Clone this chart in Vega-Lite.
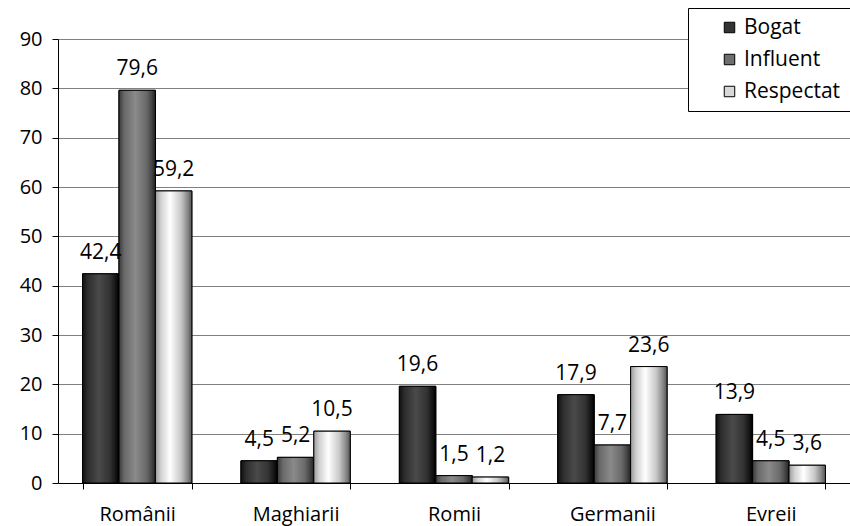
{
  "$schema": "https://vega.github.io/schema/vega-lite/v6.json",
  "width": 792,
  "height": 444,
  "autosize": "none",
  "padding": {"left": 58, "top": 39, "right": 0, "bottom": 43},
  "background": "white",
  "config": {
    "locale": {"number": {"decimal": ",", "thousands": ".", "grouping": [3], "currency": ["", ""]}},
    "view": {"stroke": null},
    "font": "Open Sans"
  },
  "data": {"values": [
    {"grup": "Românii", "s": "Bogat", "v": 42.4},
    {"grup": "Românii", "s": "Influent", "v": 79.6},
    {"grup": "Românii", "s": "Respectat", "v": 59.2},
    {"grup": "Maghiarii", "s": "Bogat", "v": 4.5},
    {"grup": "Maghiarii", "s": "Influent", "v": 5.2},
    {"grup": "Maghiarii", "s": "Respectat", "v": 10.5},
    {"grup": "Romii", "s": "Bogat", "v": 19.6},
    {"grup": "Romii", "s": "Influent", "v": 1.5},
    {"grup": "Romii", "s": "Respectat", "v": 1.2},
    {"grup": "Germanii", "s": "Bogat", "v": 17.9},
    {"grup": "Germanii", "s": "Influent", "v": 7.7},
    {"grup": "Germanii", "s": "Respectat", "v": 23.6},
    {"grup": "Evreii", "s": "Bogat", "v": 13.9},
    {"grup": "Evreii", "s": "Influent", "v": 4.5},
    {"grup": "Evreii", "s": "Respectat", "v": 3.6}
  ]},
  "encoding": {
    "x": {
      "field": "grup", "type": "nominal", "sort": null,
      "scale": {"paddingInner": 0.31, "paddingOuter": 0.155},
      "axis": {
        "title": null, "labelAngle": 0, "labelFontSize": 20, "labelColor": "black",
        "labelPadding": 15, "domainColor": "black", "tickColor": "black",
        "tickBand": "extent", "tickSize": 6, "grid": false
      }
    },
    "xOffset": {"field": "s", "type": "nominal", "scale": {"paddingInner": 0, "paddingOuter": 0}},
    "y": {
      "field": "v", "type": "quantitative",
      "scale": {"domain": [0, 90], "nice": false},
      "axis": {
        "title": null, "values": [0,10,20,30,40,50,60,70,80,90], "labelFontSize": 20,
        "labelColor": "black", "labelPadding": 10, "domainColor": "black", "tickColor": "black",
        "tickSize": 6, "gridColor": "#808080", "gridWidth": 1.2
      }
    }
  },
  "layer": [
    {
      "mark": {"type": "bar", "stroke": "black", "strokeWidth": 1},
      "encoding": {
        "color": {
          "field": "s", "type": "nominal",
          "scale": {"domain": ["Bogat", "Influent", "Respectat"], "range": ["#333333", "#6e6e6e", "#d8d8d8"]},
          "legend": {
            "title": null, "orient": "none", "legendX": 630, "legendY": -31,
            "strokeColor": "black", "fillColor": "white", "padding": 9,
            "labelFontSize": 21, "labelColor": "black", "symbolType": "square", "symbolSize": 110,
            "symbolStrokeColor": "black", "symbolStrokeWidth": 1, "rowPadding": 10,
            "symbolOffset": 22, "labelOffset": 4, "offset": 0
          }
        }
      }
    },
    {
      "transform": [{"filter": "datum.s === 'Bogat'"}],
      "mark": {"type": "bar", "stroke": "black", "strokeWidth": 1,
        "color": {"gradient": "linear", "x1": 0, "x2": 1, "y1": 0, "y2": 0, "stops": [
          {"offset": 0, "color": "#111111"}, {"offset": 0.15, "color": "#2e2e2e"},
          {"offset": 0.45, "color": "#4a4a4a"}, {"offset": 0.75, "color": "#333333"},
          {"offset": 0.9, "color": "#161616"}, {"offset": 1, "color": "#000000"}]}}
    },
    {
      "transform": [{"filter": "datum.s === 'Influent'"}],
      "mark": {"type": "bar", "stroke": "black", "strokeWidth": 1,
        "color": {"gradient": "linear", "x1": 0, "x2": 1, "y1": 0, "y2": 0, "stops": [
          {"offset": 0, "color": "#3a3a3a"}, {"offset": 0.15, "color": "#6a6a6a"},
          {"offset": 0.45, "color": "#8a8a8a"}, {"offset": 0.75, "color": "#6a6a6a"},
          {"offset": 0.9, "color": "#444444"}, {"offset": 1, "color": "#222222"}]}}
    },
    {
      "transform": [{"filter": "datum.s === 'Respectat'"}],
      "mark": {"type": "bar", "stroke": "black", "strokeWidth": 1,
        "color": {"gradient": "linear", "x1": 0, "x2": 1, "y1": 0, "y2": 0, "stops": [
          {"offset": 0, "color": "#9a9a9a"}, {"offset": 0.15, "color": "#d0d0d0"},
          {"offset": 0.4, "color": "#ffffff"}, {"offset": 0.7, "color": "#c8c8c8"},
          {"offset": 0.88, "color": "#8a8a8a"}, {"offset": 1, "color": "#555555"}]}}
    },
    {
      "mark": {"type": "text", "baseline": "alphabetic", "dy": -15, "fontSize": 21, "color": "black"},
      "encoding": {"text": {"field": "v", "type": "quantitative", "format": ".1f"}}
    }
  ]
}
